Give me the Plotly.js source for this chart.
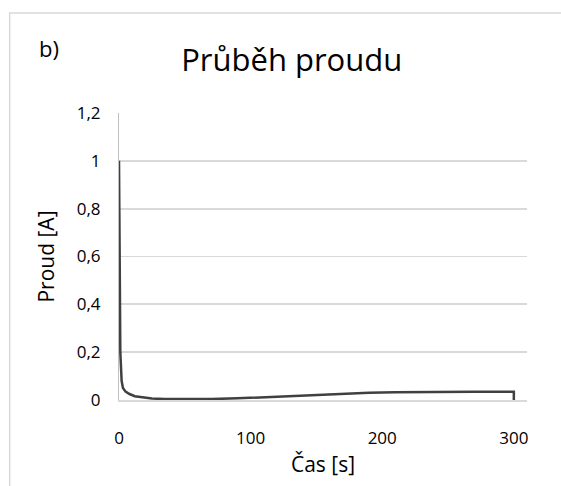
<!DOCTYPE html>
<html><head><meta charset="utf-8">
<script src="https://cdn.plot.ly/plotly-3.0.1.min.js"></script>
<style>body{margin:0;background:#fff}#c{width:561px;height:486px}</style>
</head><body><div id="c"></div>
<script>
const time = [0, 0.5, 1, 2, 3, 5, 8, 12, 18, 25, 35, 50, 70, 90, 110, 130, 150, 170, 190, 210, 230, 250, 270, 290, 300, 300];
const current = [1.0, 0.5, 0.2, 0.08, 0.05, 0.035, 0.025, 0.016, 0.01, 0.006, 0.004, 0.003, 0.004, 0.007, 0.012, 0.018, 0.023, 0.027, 0.03, 0.032, 0.034, 0.035, 0.035, 0.035, 0.035, 0];
const xTicks = [0, 100, 200, 300];
const yTicks = [0, 0.2, 0.4, 0.6, 0.8, 1, 1.2];

const font = "Open Sans, Noto Sans, sans-serif";
Plotly.newPlot('c', [{
  x: time, y: current, type: 'scatter', mode: 'lines',
  line: {color: '#404040', width: 2.5}, hoverinfo: 'skip'
}], {
  width: 561, height: 486,
  margin: {l: 119, r: 34, t: 113, b: 86},
  paper_bgcolor: '#fff', plot_bgcolor: '#fff',
  separators: ', ',
  showlegend: false,
  font: {family: font, color: '#000', size: 17},
  title: {text: 'Průběh proudu', x: 0.52, xanchor: 'center', y: 0.877, yanchor: 'middle', font: {size: 31, family: font, color: '#000'}},
  xaxis: {range: [0, 310], tickvals: xTicks, showgrid: false, zeroline: false,
    showline: true, linecolor: '#d9d9d9', linewidth: 1.5, ticks: '', ticklabelstandoff: 22,
    tickfont: {size: 17}, title: {text: 'Čas [s]', font: {size: 21}, standoff: 9}},
  yaxis: {range: [0, 1.2], tickvals: yTicks, showgrid: true, gridcolor: '#d9d9d9', gridwidth: 1.7,
    zeroline: false, showline: true, linecolor: '#bfbfbf', linewidth: 1, ticks: '', ticklabelstandoff: 14,
    tickfont: {size: 17}, title: {text: 'Proud [A]', font: {size: 21}, standoff: 16}},
  annotations: [{text: 'b)', xref: 'paper', yref: 'paper', x: -0.2, y: 1.225, xanchor: 'left', yanchor: 'middle', showarrow: false, font: {size: 22, family: font, color: '#000'}}],
  shapes: [{type: 'rect', xref: 'paper', yref: 'paper', x0: -0.268, x1: 1.4, y0: -0.4, y1: 1.348, line: {color: '#d9d9d9', width: 1.5}}]
}, {displayModeBar: false, staticPlot: true});
</script></body></html>
